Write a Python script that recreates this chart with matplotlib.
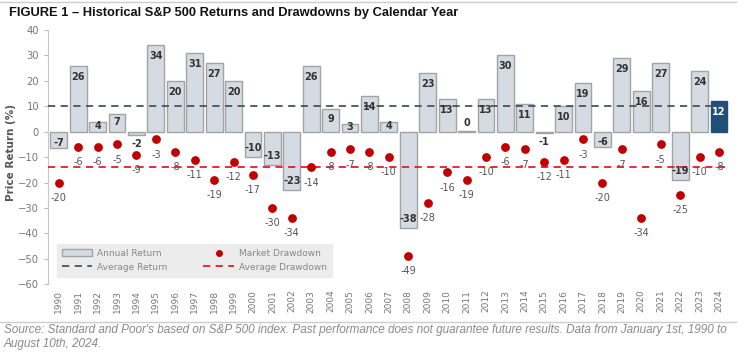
import matplotlib
matplotlib.use("Agg")
import matplotlib.pyplot as plt
from matplotlib.lines import Line2D
from matplotlib.patches import Patch

years = list(range(1990, 2025))
annual_return = [-7, 26, 4, 7, -2, 34, 20, 31, 27, 20, -10, -13, -23, 26, 9, 3, 14, 4,
                 -38, 23, 13, 0, 13, 30, 11, -1, 10, 19, -6, 29, 16, 27, -19, 24, 12]
bar_heights = [-6.6, 26, 4, 7, -1.5, 34, 20, 31, 27, 20, -10, -13, -23, 26, 9, 3, 14, 4,
               -38, 23, 13, 0.3, 13, 30, 11, -0.7, 10, 19, -6, 29, 16, 27, -19, 24, 12]
drawdown = [-20, -6, -6, -5, -9, -3, -8, -11, -19, -12, -17, -30, -34, -14, -8, -7, -8, -10,
            -49, -28, -16, -19, -10, -6, -7, -12, -11, -3, -20, -7, -34, -5, -25, -10, -8]
avg_return = 10
avg_drawdown = -13.8

plt.rcParams['font.family'] = ['DejaVu Sans']
fig = plt.figure(figsize=(7.4, 3.53), dpi=100)
ax = fig.add_axes([0.065, 0.195, 0.921, 0.72])

x = list(range(len(years)))
colors = ['#d5dbe3'] * len(years)
colors[-1] = '#1f4e79'
edges = ['#a3a3a3'] * len(years)
edges[-1] = '#1f4e79'
ax.bar(x, bar_heights, width=0.87, color=colors, edgecolor=edges, linewidth=1.0, zorder=2)

ax.axhline(avg_return, color='#4a5360', linestyle=(0, (4, 3)), linewidth=1.3, zorder=3)
ax.axhline(avg_drawdown, color='#e0201b', linestyle=(0, (4, 3)), linewidth=1.3, zorder=3)
ax.scatter(x, drawdown, s=28, color='#c00000', zorder=4)

for i, (v, h) in enumerate(zip(annual_return, bar_heights)):
    col = 'white' if i == len(years) - 1 else '#333333'
    if v == 0:
        y = h + 3.0
    elif v in (-1, -2):
        y = h - 3.3
    elif v > 0:
        y = max(h - 4.3, h / 2 + 0.3)
    elif v > -8:
        y = h * 0.68
    else:
        y = h + 3.6
    ax.text(i, y, str(v), ha='center', va='center', fontsize=7, fontweight='bold', color=col, zorder=5)

for i, d in enumerate(drawdown):
    ax.text(i, d - 6, str(d), ha='center', va='center', fontsize=7, color='#555555', zorder=5)

ax.set_xlim(-0.55, 34.55)
ax.set_ylim(-60, 40)
ax.set_yticks(range(-60, 41, 10))
ax.set_xticks(x)
ax.set_xticklabels([str(y) for y in years], rotation=90, fontsize=6.5, color='#777777')
ax.tick_params(axis='x', length=0, pad=4)
ax.tick_params(axis='y', labelsize=7.2, colors='#777777', length=3, color='#bbbbbb')
for s in ['top', 'right', 'bottom']:
    ax.spines[s].set_visible(False)
ax.spines['left'].set_color('#c8c8c8')
ax.set_ylabel('Price Return (%)', fontsize=7.5, fontweight='bold', color='#555555')
ax.yaxis.set_label_coords(-0.047, 0.52)

handles = [Patch(facecolor='#d5dbe3', edgecolor='#a3a3a3', label='Annual Return'),
           Line2D([0], [0], color='#4a5360', linestyle=(0, (4, 3)), lw=1.3, label='Average Return'),
           Line2D([0], [0], marker='o', color='none', markerfacecolor='#c00000', markeredgecolor='#c00000', markersize=4, label='Market Drawdown'),
           Line2D([0], [0], color='#e0201b', linestyle=(0, (4, 3)), lw=1.3, label='Average Drawdown')]
leg = ax.legend(handles=handles, ncol=2, loc='lower left', bbox_to_anchor=(0.006, 0.012),
                prop={'size': 6.5}, frameon=True, fancybox=False, facecolor='#ececec', edgecolor='#ececec',
                framealpha=1, columnspacing=4.0, handlelength=3.4, handletextpad=0.5,
                labelspacing=0.55, borderpad=0.55)
for t in leg.get_texts():
    t.set_color('#888888')

fig.text(0.012, 0.963, 'FIGURE 1 \u2013 Historical S&P 500 Returns and Drawdowns by Calendar Year',
         fontsize=9.3, fontweight='bold', color='#111111', family=['Liberation Sans', 'DejaVu Sans'], va='center')
fig.add_artist(Line2D([0.0, 0.995], [0.993, 0.993], color='#cccccc', lw=1.0))
fig.add_artist(Line2D([0.0, 0.995], [0.088, 0.088], color='#cccccc', lw=1.0))
fig.text(0.005, 0.083, "Source: Standard and Poor's based on S&P 500 index. Past performance does not guarantee future results. Data from January 1st, 1990 to\nAugust 10th, 2024.",
         fontsize=8.5, style='italic', color='#8a8a8a', va='top', linespacing=1.2,
         family=['Liberation Sans', 'DejaVu Sans'])

fig.savefig('out.png', dpi=100)
